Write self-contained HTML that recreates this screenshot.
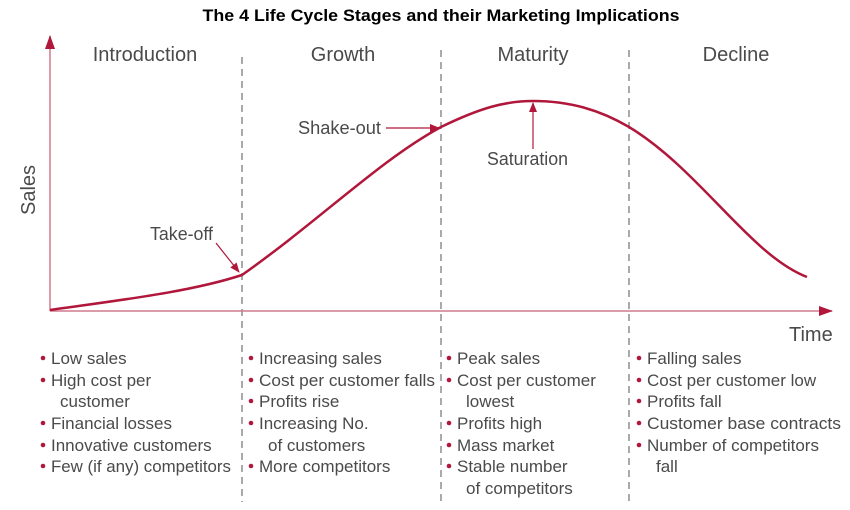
<!DOCTYPE html>
<html><head><meta charset="utf-8"><style>
html,body{margin:0;padding:0;background:#fff;width:850px;height:510px;overflow:hidden}
svg{display:block}
.t{font-family:"Liberation Sans",sans-serif;fill:#4a4a4a}
</style></head><body>
<svg width="850" height="510" viewBox="0 0 850 510" xmlns="http://www.w3.org/2000/svg">
<defs>
<marker id="ah" markerWidth="10" markerHeight="8" refX="9" refY="4" orient="auto" markerUnits="userSpaceOnUse">
<path d="M0,0 L10,4 L0,8 z" fill="#b0173a"/></marker>
<marker id="ax" markerWidth="14" markerHeight="10" refX="13" refY="5" orient="auto" markerUnits="userSpaceOnUse">
<path d="M0,0 L14,5 L0,10 z" fill="#b0173a"/></marker>
</defs>
<text x="441" y="21" text-anchor="middle" font-family="'Liberation Sans',sans-serif" font-weight="bold" font-size="17" fill="#000" textLength="477" lengthAdjust="spacingAndGlyphs">The 4 Life Cycle Stages and their Marketing Implications</text>
<g stroke="#555" stroke-width="1" stroke-dasharray="7,5">
<line x1="242" y1="57" x2="242" y2="502"/>
<line x1="441" y1="50" x2="441" y2="502"/>
<line x1="629" y1="50" x2="629" y2="502"/>
</g>
<line x1="50" y1="311" x2="50" y2="36" stroke="#d07a8c" stroke-width="1.5" marker-end="url(#ax)"/>
<line x1="50" y1="311" x2="832" y2="311" stroke="#d07a8c" stroke-width="1.5" marker-end="url(#ax)"/>
<path d="M50,310 C120,300 190,292 242,275 C320,220 380,160 441,127 C480,108 505,101 533,101 C570,101 600,110 629,127 C700,170 750,255 807,277" fill="none" stroke="#b0173a" stroke-width="2.5"/>
<line x1="216" y1="243" x2="239" y2="272" stroke="#b0173a" stroke-width="1.2" marker-end="url(#ah)"/>
<line x1="386" y1="128" x2="439" y2="128" stroke="#b0173a" stroke-width="1.2" marker-end="url(#ah)"/>
<line x1="533" y1="149" x2="533" y2="103" stroke="#b0173a" stroke-width="1.2" marker-end="url(#ah)"/>
<g class="t" font-size="18">
<text x="150" y="240" textLength="63" lengthAdjust="spacingAndGlyphs">Take-off</text>
<text x="298" y="134" textLength="83" lengthAdjust="spacingAndGlyphs">Shake-out</text>
<text x="487" y="165" textLength="81" lengthAdjust="spacingAndGlyphs">Saturation</text>
</g>
<g class="t" font-size="20">
<text x="145" y="61" text-anchor="middle">Introduction</text>
<text x="343" y="61" text-anchor="middle">Growth</text>
<text x="533" y="61" text-anchor="middle">Maturity</text>
<text x="736" y="61" text-anchor="middle">Decline</text>
<text x="789" y="341">Time</text>
<text transform="translate(35,190) rotate(-90)" text-anchor="middle">Sales</text>
</g>
<g fill="#b0173a">
<circle cx="43" cy="358" r="2.3"/><circle cx="43" cy="380" r="2.3"/><circle cx="43" cy="423" r="2.3"/><circle cx="43" cy="445" r="2.3"/><circle cx="43" cy="466" r="2.3"/>
<circle cx="251" cy="358" r="2.3"/><circle cx="251" cy="380" r="2.3"/><circle cx="251" cy="401" r="2.3"/><circle cx="251" cy="423" r="2.3"/><circle cx="251" cy="466" r="2.3"/>
<circle cx="449" cy="358" r="2.3"/><circle cx="449" cy="380" r="2.3"/><circle cx="449" cy="423" r="2.3"/><circle cx="449" cy="445" r="2.3"/><circle cx="449" cy="466" r="2.3"/>
<circle cx="639" cy="358" r="2.3"/><circle cx="639" cy="380" r="2.3"/><circle cx="639" cy="401" r="2.3"/><circle cx="639" cy="423" r="2.3"/><circle cx="639" cy="445" r="2.3"/>
</g>
<g class="t" font-size="17">
<text x="51" y="364">Low sales</text>
<text x="51" y="386">High cost per</text>
<text x="60" y="407">customer</text>
<text x="51" y="429">Financial losses</text>
<text x="51" y="451">Innovative customers</text>
<text x="51" y="472" textLength="180" lengthAdjust="spacingAndGlyphs">Few (if any) competitors</text>
<text x="259" y="364">Increasing sales</text>
<text x="259" y="386" textLength="176" lengthAdjust="spacingAndGlyphs">Cost per customer falls</text>
<text x="259" y="407">Profits rise</text>
<text x="259" y="429">Increasing No.</text>
<text x="268" y="451">of customers</text>
<text x="259" y="472">More competitors</text>
<text x="457" y="364">Peak sales</text>
<text x="457" y="386">Cost per customer</text>
<text x="466" y="407">lowest</text>
<text x="457" y="429">Profits high</text>
<text x="457" y="451">Mass market</text>
<text x="457" y="472">Stable number</text>
<text x="466" y="494">of competitors</text>
<text x="647" y="364">Falling sales</text>
<text x="647" y="386">Cost per customer low</text>
<text x="647" y="407">Profits fall</text>
<text x="647" y="429" textLength="194" lengthAdjust="spacingAndGlyphs">Customer base contracts</text>
<text x="647" y="451">Number of competitors</text>
<text x="656" y="472">fall</text>
</g>
</svg>
</body></html>
